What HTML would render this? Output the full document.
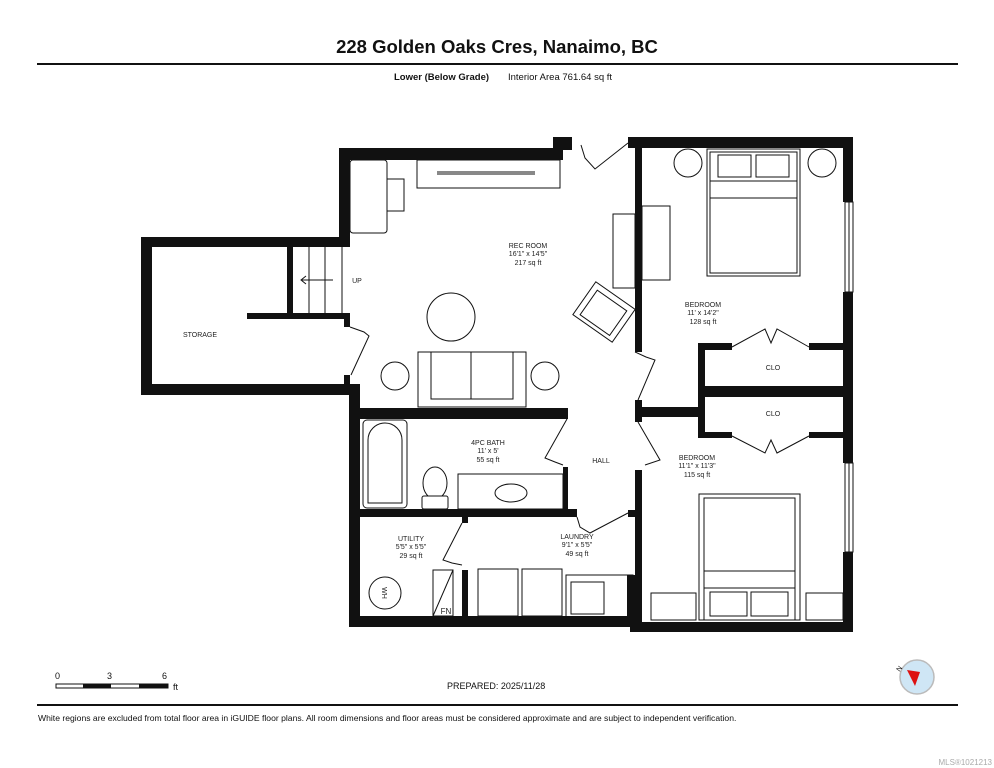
<!DOCTYPE html>
<html><head><meta charset="utf-8"><style>
html,body{margin:0;padding:0;background:#fff;}
svg{display:block;font-family:"Liberation Sans",Arial,sans-serif;}
</style></head><body>
<svg width="994" height="768" viewBox="0 0 994 768" xmlns="http://www.w3.org/2000/svg">
<rect width="994" height="768" fill="#fff"/>
<text x="497" y="53" text-anchor="middle" font-size="18.5" font-weight="bold" fill="#111">228 Golden Oaks Cres, Nanaimo, BC</text>
<rect x="37" y="63" width="921" height="2" fill="#111"/>
<text x="394" y="80" font-size="9.5" font-weight="bold" fill="#111">Lower (Below Grade)</text>
<text x="508" y="80" font-size="9.5" fill="#111">Interior Area 761.64 sq ft</text>

<!-- furniture (thin lines) -->
<g fill="#fff" stroke="#111" stroke-width="1">
<rect x="350" y="160" width="37" height="73" rx="3"/>
<rect x="387" y="179" width="17" height="32"/>
<rect x="417" y="160" width="143" height="28"/>
<line x1="437" y1="172" x2="535" y2="172"/><line x1="437" y1="174" x2="535" y2="174"/>
<rect x="613" y="214" width="22" height="74"/>
<rect x="642" y="206" width="28" height="74"/>
<g transform="translate(604,312) rotate(35)"><rect x="-24" y="-20" width="48" height="40"/><rect x="-18" y="-14" width="36" height="30"/></g>
<circle cx="451" cy="317" r="24"/>
<rect x="418" y="352" width="108" height="55"/><rect x="431" y="352" width="82" height="47"/><line x1="471" y1="352" x2="471" y2="399"/>
<circle cx="395" cy="376" r="14"/><circle cx="545" cy="376" r="14"/>
<rect x="363" y="420" width="44" height="88" rx="4"/><path d="M368 503 V440 a17 17 0 0 1 34 0 V503 Z"/>
<ellipse cx="435" cy="483" rx="12" ry="16"/><rect x="422" y="496" width="26" height="13" rx="2"/>
<rect x="458" y="474" width="105" height="35"/><ellipse cx="511" cy="493" rx="16" ry="9"/>
<circle cx="385" cy="593" r="16"/>
<rect x="433" y="570" width="20" height="46"/><line x1="433" y1="616" x2="453" y2="570"/>
<rect x="478" y="569" width="40" height="47"/><rect x="522" y="569" width="40" height="47"/>
<rect x="566" y="575" width="67" height="42"/><rect x="571" y="582" width="33" height="32"/>
<line x1="293" y1="285" x2="342" y2="285" stroke="none"/>
<line x1="309" y1="247" x2="309" y2="313"/><line x1="325" y1="247" x2="325" y2="313"/><line x1="342" y1="247" x2="342" y2="313"/>
<line x1="302" y1="280" x2="333" y2="280"/><path d="M306 276 L301 280 L306 284" fill="none"/>
<rect x="707" y="149" width="93" height="127"/><rect x="710" y="152" width="87" height="121"/>
<rect x="718" y="155" width="33" height="22"/><rect x="756" y="155" width="33" height="22"/><rect x="710" y="181" width="87" height="17"/>
<circle cx="688" cy="163" r="14"/><circle cx="822" cy="163" r="14"/>
<rect x="699" y="494" width="101" height="126"/><rect x="704" y="498" width="91" height="122"/>
<rect x="704" y="571" width="91" height="17"/><rect x="710" y="592" width="37" height="24"/><rect x="751" y="592" width="37" height="24"/>
<rect x="651" y="593" width="45" height="27"/><rect x="806" y="593" width="37" height="27"/>
<!-- doors -->
<polyline points="581,145 585,158 595,169 628,143" fill="none"/>
<polyline points="350,327 364,332 369,336 351,375" fill="none"/>
<polyline points="635,352 646,357 655,360 638,400" fill="none"/>
<polyline points="638,422 660,460 645,465" fill="none"/>
<polyline points="567,419 545,458 555,462 563,465" fill="none"/>
<polyline points="577,517 580,527 590,533 628,513" fill="none"/>
<polyline points="462,523 443,560 452,563 462,565" fill="none"/>
<polyline points="732,347 765,329 771,343 777,329 809,347" fill="none"/>
<polyline points="732,436 765,453 771,440 777,453 809,436" fill="none"/>
<!-- windows -->
<rect x="845" y="202" width="8" height="90"/><line x1="849" y1="202" x2="849" y2="292"/>
<rect x="845" y="463" width="8" height="89"/><line x1="849" y1="463" x2="849" y2="552"/>
</g>

<!-- walls -->
<g fill="#111">
<rect x="339" y="148" width="224" height="12"/>
<rect x="553" y="137" width="19" height="13"/>
<rect x="628" y="137" width="225" height="11"/>
<rect x="635" y="137" width="7" height="215"/>
<rect x="339" y="148" width="11" height="99"/>
<rect x="141" y="237" width="209" height="10"/>
<rect x="141" y="237" width="11" height="158"/>
<rect x="141" y="384" width="219" height="11"/>
<rect x="287" y="247" width="6" height="66"/>
<rect x="247" y="313" width="103" height="6"/>
<rect x="344" y="313" width="6" height="14"/>
<rect x="344" y="375" width="6" height="10"/>
<rect x="349" y="384" width="11" height="243"/>
<rect x="349" y="616" width="284" height="11"/>
<rect x="630" y="622" width="223" height="10"/>
<rect x="627" y="575" width="8" height="52"/>
<rect x="360" y="408" width="208" height="11"/>
<rect x="360" y="509" width="217" height="8"/>
<rect x="563" y="467" width="5" height="44"/>
<rect x="462" y="515" width="6" height="8"/>
<rect x="462" y="570" width="6" height="47"/>
<rect x="628" y="510" width="7" height="7"/>
<rect x="635" y="400" width="7" height="22"/>
<rect x="635" y="470" width="7" height="152"/>
<rect x="642" y="407" width="58" height="10"/>
<rect x="698" y="343" width="7" height="94"/>
<rect x="698" y="343" width="34" height="7"/>
<rect x="809" y="343" width="36" height="7"/>
<rect x="705" y="386" width="140" height="11"/>
<rect x="698" y="432" width="34" height="6"/>
<rect x="809" y="432" width="36" height="6"/>
<rect x="843" y="137" width="10" height="65"/>
<rect x="843" y="292" width="10" height="171"/>
<rect x="843" y="552" width="10" height="80"/>
</g>

<g font-size="7" fill="#222" text-anchor="middle">
<text x="528" y="248">REC ROOM</text><text x="528" y="256">16'1" x 14'5"</text><text x="528" y="265">217 sq ft</text>
<text x="357" y="283">UP</text>
<text x="200" y="337">STORAGE</text>
<text x="488" y="445">4PC BATH</text><text x="488" y="453">11' x 5'</text><text x="488" y="462">55 sq ft</text>
<text x="601" y="463">HALL</text>
<text x="411" y="541">UTILITY</text><text x="411" y="549">5'5" x 5'5"</text><text x="411" y="558">29 sq ft</text>
<text x="577" y="539">LAUNDRY</text><text x="577" y="547">9'1" x 5'5"</text><text x="577" y="556">49 sq ft</text>
<text x="703" y="307">BEDROOM</text><text x="703" y="315">11' x 14'2"</text><text x="703" y="324">128 sq ft</text>
<text x="773" y="370">CLO</text><text x="773" y="416">CLO</text>
<text x="697" y="460">BEDROOM</text><text x="697" y="468">11'1" x 11'3"</text><text x="697" y="477">115 sq ft</text>
<text x="385" y="596" transform="rotate(90 385 593)">WH</text>
<text x="446" y="614" font-size="8">FN</text>
</g>

<!-- footer -->
<g font-size="9" fill="#111">
<text x="55" y="679">0</text><text x="107" y="679">3</text><text x="162" y="679">6</text>
<text x="173" y="690">ft</text>
<text x="447" y="689">PREPARED: 2025/11/28</text>
</g>
<rect x="56" y="684" width="112" height="4" fill="#fff" stroke="#111" stroke-width="1"/>
<rect x="83" y="684" width="28" height="4" fill="#111"/><rect x="139" y="684" width="29" height="4" fill="#111"/>
<circle cx="917" cy="677" r="17" fill="#cfe6f5" stroke="#bbb" stroke-width="1.5"/>
<polygon points="907,670 920,672 915,686" fill="#d11"/>
<text x="896" y="671" font-size="7" fill="#111" transform="rotate(-55 899 668)">N</text>
<rect x="37" y="704" width="921" height="2" fill="#111"/>
<text x="38" y="721" font-size="8.6" fill="#111">White regions are excluded from total floor area in iGUIDE floor plans. All room dimensions and floor areas must be considered approximate and are subject to independent verification.</text>
<text x="992" y="765" font-size="8" fill="#aaa" text-anchor="end">MLS®1021213</text>
</svg>
</body></html>
